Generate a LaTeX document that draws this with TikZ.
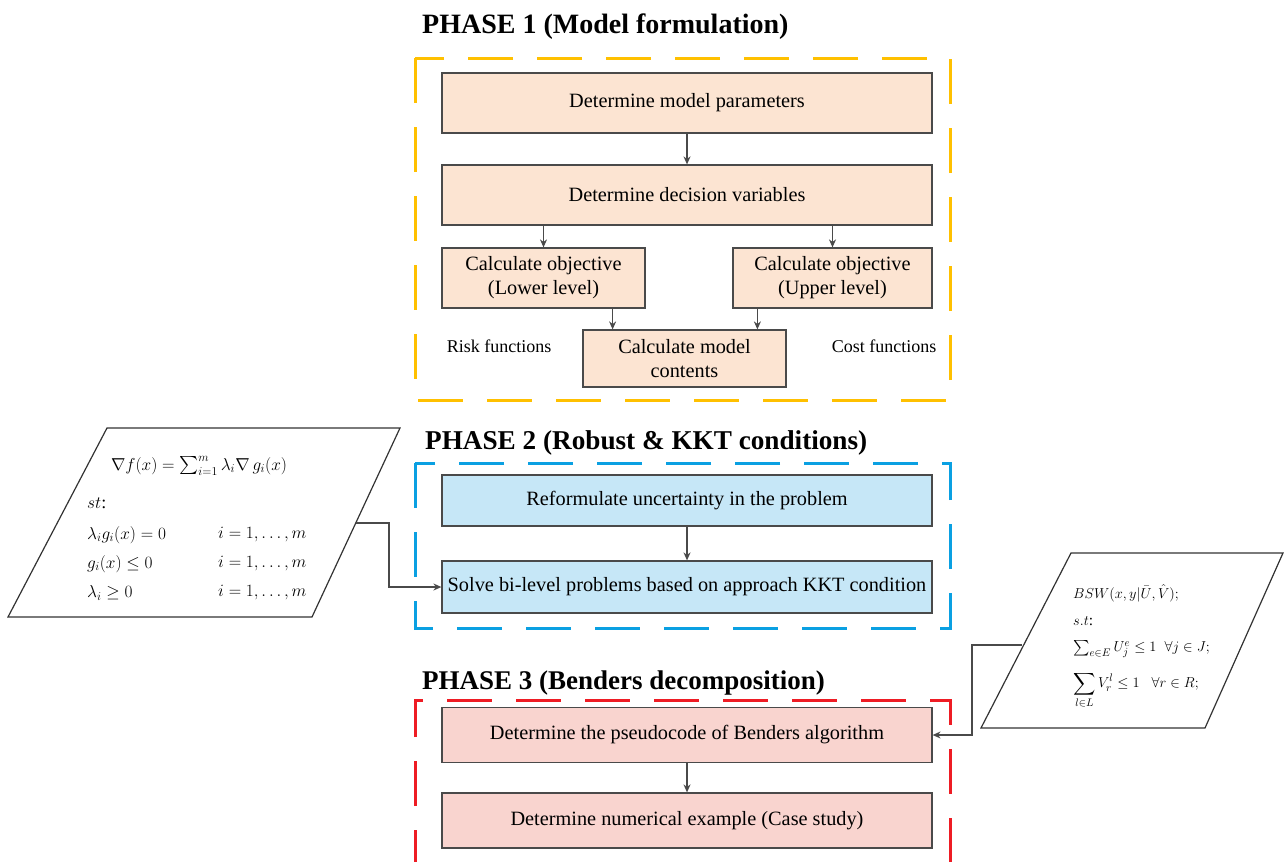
\documentclass[tikz,border=0pt]{standalone}
\usepackage{amsmath,amssymb}
\usepackage{fontspec}
\setmainfont{Liberation Serif}
\usetikzlibrary{arrows.meta}
\definecolor{peach}{HTML}{FCE4D2}
\definecolor{skyfill}{HTML}{C6E7F7}
\definecolor{pinkfill}{HTML}{F9D4CF}
\definecolor{yelline}{HTML}{FFC000}
\definecolor{blueline}{HTML}{0AA0E2}
\definecolor{redline}{HTML}{EE1C24}
\definecolor{boxborder}{HTML}{4A4A4A}
\begin{document}
\begin{tikzpicture}[x=1pt,y=-1pt,
  procbox/.style={draw=boxborder, line width=1.2pt, inner sep=0pt, align=center,
    font=\fontsize{20.3}{24}\selectfont},
  widebox/.style={procbox, minimum width=490pt},
  phasetitle/.style={anchor=base west, inner sep=0pt, font=\fontsize{28}{32}\selectfont\bfseries},
  phaseframe/.style={line width=3pt, dash pattern=on 45pt off 24pt},
  arr/.style={draw=boxborder, line width=1.3pt, -{Stealth[length=8pt,width=7pt]}},
  paral/.style={draw=black!80, line width=1.2pt, fill=white},
  mathline/.style={anchor=west, inner sep=0pt, font=\fontsize{18}{22}\selectfont},
  bswline/.style={anchor=west, inner sep=0pt, font=\fontsize{15.5}{18}\selectfont},
  sidetext/.style={inner sep=0pt, font=\fontsize{18}{21}\selectfont}
]
\useasboundingbox (0,0) rectangle (1285,862);
\fill[white] (0,0) rectangle (1285,862);

% ---------------- PHASE 1
\node[phasetitle] (t1) at (422,33) {PHASE 1 (Model formulation)};
\draw[phaseframe, draw=yelline] (415,58) rectangle (950,400);
\node[widebox, fill=peach, minimum height=60pt] (params) at (687,103) {Determine model parameters};
\node[widebox, fill=peach, minimum height=60pt] (decis) at (687,195) {Determine decision variables};
\node[procbox, fill=peach, minimum width=203pt, minimum height=60pt] (lower) at (543.5,278)
  {Calculate objective\\(Lower level)};
\node[procbox, fill=peach, minimum width=199pt, minimum height=60pt] (upper) at (832.5,278)
  {Calculate objective\\(Upper level)};
\node[procbox, fill=peach, minimum width=203pt, minimum height=57pt] (contents) at (684.5,358.5)
  {Calculate model\\contents};
\node[sidetext] (risk) at (499,346) {Risk functions};
\node[sidetext] (cost) at (884,346) {Cost functions};

\draw[arr] (params.south) -- (decis.north);
\draw[arr] (decis.south -| lower.north) -- (lower.north);
\draw[arr] (decis.south -| upper.north) -- (upper.north);
\draw[arr] ([xshift=-33pt]lower.south east) -- ([xshift=-33pt]lower.south east |- contents.north);
\draw[arr] ([xshift=25pt]upper.south west) -- ([xshift=25pt]upper.south west |- contents.north);

% ---------------- PHASE 2
\node[phasetitle, font=\fontsize{27.2}{31}\selectfont\bfseries] (t2) at (425,449) {PHASE 2 (Robust \& KKT conditions)};
\draw[phaseframe, draw=blueline] (415,463) rectangle (950,628);
\node[widebox, fill=skyfill, minimum height=51pt] (reform) at (687,500.5) {Reformulate uncertainty in the problem};
\node[widebox, fill=skyfill, minimum height=52pt] (solve) at (687,587) {Solve bi-level problems based on approach KKT condition};
\draw[arr] (reform.south) -- (solve.north);

% left parallelogram (KKT conditions)
\draw[paral] (107,428) -- (400,428) -- (312,617) -- (8,617) -- cycle;
\node[inner sep=0pt, font=\fontsize{18}{22}\selectfont] (kkt) at (199,466)
  {$\nabla f(x) = \textstyle\sum_{i=1}^{m} \lambda_i \nabla\, g_i(x)$};
\node[mathline] (kst) at (87,503) {$st$:};
\node[mathline] (k1a) at (87,535) {$\lambda_i g_i(x) = 0$};
\node[mathline] (k1b) at (218,535) {$i = 1, \ldots, m$};
\node[mathline] (k2a) at (87,564) {$g_i(x) \le 0$};
\node[mathline] (k2b) at (218,564) {$i = 1, \ldots, m$};
\node[mathline] (k3a) at (87,593) {$\lambda_i \ge 0$};
\node[mathline] (k3b) at (218,593) {$i = 1, \ldots, m$};
\coordinate (kktout) at (356,523);
\draw[arr] (kktout) -- (389,523) |- (solve.west);

% ---------------- PHASE 3
\node[phasetitle, font=\fontsize{27}{31}\selectfont\bfseries] (t3) at (422,689) {PHASE 3 (Benders decomposition)};
\draw[phaseframe, draw=redline] (415,875) -- (415,700) -- (950,700) -- (950,875);
\node[widebox, fill=pinkfill, minimum height=55pt] (benders) at (687,735) {Determine the pseudocode of Benders algorithm};
\node[widebox, fill=pinkfill, minimum height=55pt] (numer) at (687,820.5) {Determine numerical example (Case study)};
\draw[arr] (benders.south) -- (numer.north);

% right parallelogram (master problem)
\draw[paral] (1071,553) -- (1283,553) -- (1205,728) -- (981,728) -- cycle;
\node[bswline] (bsw) at (1073,593) {$BSW(x,y|\bar{U},\hat{V});$};
\node[bswline] (bst) at (1073,621) {$s.t$:};
\node[bswline] (bu) at (1073,649) {$\textstyle\sum_{e\in E} U_j^e \le 1 \;\; \forall j \in J;$};
\node[bswline] (bv) at (1073,690) {$\displaystyle\sum_{l\in L} V_r^l \le 1 \;\;\; \forall r \in R;$};
\coordinate (bswout) at (1022,645);
\draw[arr] (bswout) -- (972,645) |- (benders.east);
\end{tikzpicture}
\end{document}
